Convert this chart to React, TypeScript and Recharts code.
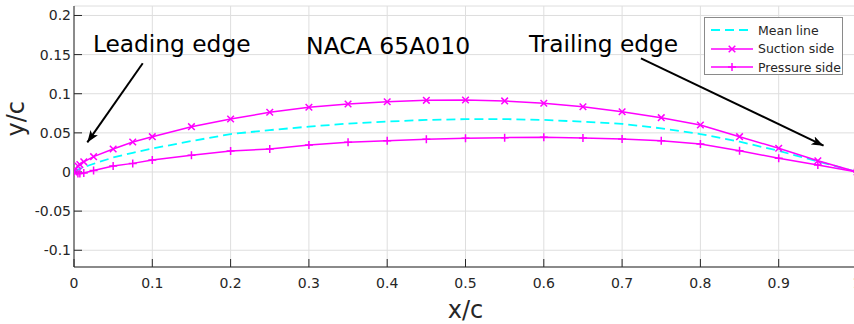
import React from 'react';
import { LineChart, Line, XAxis, YAxis, CartesianGrid, ReferenceLine, ReferenceDot } from 'recharts';

const xStations = [0, 0.005, 0.0075, 0.0125, 0.025, 0.05, 0.075, 0.1, 0.15, 0.2, 0.25, 0.3, 0.35, 0.4, 0.45, 0.5, 0.55, 0.6, 0.65, 0.7, 0.75, 0.8, 0.85, 0.9, 0.95, 1.0];
const suctionSide = [0, 0.0077, 0.0095, 0.013, 0.0196, 0.0294, 0.0383, 0.0451, 0.0579, 0.0677, 0.0763, 0.0827, 0.0869, 0.0898, 0.0916, 0.092, 0.0908, 0.0878, 0.0834, 0.077, 0.0694, 0.06, 0.0451, 0.0303, 0.0144, 0];
const pressureSide = [0, -0.002, -0.002, -0.0012, 0.002, 0.0077, 0.011, 0.0153, 0.0213, 0.0268, 0.0294, 0.0345, 0.0379, 0.04, 0.0418, 0.043, 0.0439, 0.0445, 0.0434, 0.0422, 0.04, 0.0358, 0.0272, 0.0175, 0.0089, 0];
const meanLine = [0, 0.003, 0.004, 0.006, 0.0105, 0.0185, 0.0245, 0.03, 0.0395, 0.0485, 0.0535, 0.058, 0.0618, 0.0645, 0.0665, 0.0675, 0.0676, 0.0665, 0.0643, 0.0615, 0.0558, 0.0485, 0.0387, 0.027, 0.0135, 0];

const xTicks = [0, 0.1, 0.2, 0.3, 0.4, 0.5, 0.6, 0.7, 0.8, 0.9, 1];
const yTicks = [-0.1, -0.05, 0, 0.05, 0.1, 0.15, 0.2];

const leadingArrow = [{ x: 0.0878, y: 0.1389 }, { x: 0.017, y: 0.0378 }];
const trailingArrow = [{ x: 0.7241, y: 0.1453 }, { x: 0.9573, y: 0.0336 }];
const notes = [
  { text: 'Leading edge', x: 0.1248, y: 0.1635, size: 23.3 },
  { text: 'NACA 65A010', x: 0.4012, y: 0.161, size: 23.5 },
  { text: 'Trailing edge', x: 0.6763, y: 0.1635, size: 23.3 },
];

const data = xStations.map((x, i) => ({ x, s: suctionSide[i], p: pressureSide[i], m: meanLine[i] }));

const MAG = '#ff00ff';
const CYAN = '#00ffff';
const FONT = '"DejaVu Sans", sans-serif';
const TXT = '#262626';

const XDot = (props: any) => {
  const { cx, cy, index } = props;
  if (cx == null || cy == null) return <g key={index} />;
  const r = 3.3;
  return (
    <path key={index} d={`M${cx - r},${cy - r}L${cx + r},${cy + r}M${cx - r},${cy + r}L${cx + r},${cy - r}`} stroke={MAG} strokeWidth={1.5} fill="none" />
  );
};
const PlusDot = (props: any) => {
  const { cx, cy, index } = props;
  if (cx == null || cy == null) return <g key={index} />;
  const r = 4;
  return (
    <path key={index} d={`M${cx - r},${cy}L${cx + r},${cy}M${cx},${cy - r}L${cx},${cy + r}`} stroke={MAG} strokeWidth={1.5} fill="none" />
  );
};

const fmt = (v: number) => (Math.abs(v) < 1e-9 ? '0' : String(v));

export default function App() {
  return (
    <div style={{ position: 'fixed', left: 0, top: 0, width: 854, height: 324, overflow: 'hidden', background: '#fff', fontFamily: FONT }}>
      <LineChart width={870} height={324} data={data} margin={{ top: 6, right: 13, bottom: 0, left: 0 }}>
        <defs>
          <marker id="arrowHead" markerUnits="userSpaceOnUse" markerWidth="14" markerHeight="10" refX="12" refY="4.5" orient="auto">
            <path d="M0,0 L12,4.5 L0,9 L3,4.5 Z" fill="#000" />
          </marker>
        </defs>
        <CartesianGrid stroke="#dedede" strokeWidth={1} />
        <XAxis
          dataKey="x"
          type="number"
          domain={[0, 1]}
          ticks={xTicks}
          tickFormatter={fmt}
          height={57}
          tickSize={-8}
          tickMargin={19}
          tick={{ fill: TXT, fontSize: 14, fontFamily: FONT }}
          axisLine={{ stroke: '#8a8a8a', strokeWidth: 2 }}
          tickLine={{ stroke: '#262626' }}
          allowDataOverflow
          label={{ value: 'x/c', position: 'insideBottom', offset: 6, fontSize: 24, fill: TXT, fontFamily: FONT }}
        />
        <YAxis
          type="number"
          domain={[-0.1214, 0.2121]}
          ticks={yTicks}
          tickFormatter={fmt}
          width={74}
          tickSize={-8}
          tickMargin={11}
          tick={{ fill: TXT, fontSize: 14, fontFamily: FONT }}
          axisLine={{ stroke: '#262626', strokeWidth: 1 }}
          tickLine={{ stroke: '#262626' }}
          allowDataOverflow
          label={{ value: 'y/c', angle: -90, position: 'insideLeft', offset: 15, fontSize: 24, fill: TXT, fontFamily: FONT }}
        />
        <Line dataKey="m" stroke={CYAN} strokeWidth={1.8} strokeDasharray="9 5" dot={false} isAnimationActive={false} type="linear" />
        <Line dataKey="s" stroke={MAG} strokeWidth={1.5} dot={XDot} isAnimationActive={false} type="linear" />
        <Line dataKey="p" stroke={MAG} strokeWidth={1.5} dot={PlusDot} isAnimationActive={false} type="linear" />
        <ReferenceLine segment={leadingArrow} stroke="#000" strokeWidth={2} markerEnd="url(#arrowHead)" ifOverflow="visible" />
        <ReferenceLine segment={trailingArrow} stroke="#000" strokeWidth={2} markerEnd="url(#arrowHead)" ifOverflow="visible" />
        {notes.map((n) => (
          <ReferenceDot
            key={n.text}
            x={n.x}
            y={n.y}
            r={0}
            fill="none"
            stroke="none"
            ifOverflow="visible"
            label={{ value: n.text, position: 'center', fontSize: n.size, fill: '#000', fontFamily: FONT }}
          />
        ))}
      </LineChart>
      <div
        style={{
          position: 'absolute',
          left: 704,
          top: 17,
          width: 139,
          height: 58,
          border: '1px solid #8a8a8a',
          background: '#fff',
          boxSizing: 'border-box',
          fontFamily: FONT,
          fontSize: 12.5,
          color: TXT,
        }}
      >
        {[
          { name: 'Mean line', color: CYAN, dash: '9 5', mark: null },
          { name: 'Suction side', color: MAG, dash: undefined, mark: 'x' },
          { name: 'Pressure side', color: MAG, dash: undefined, mark: '+' },
        ].map((it, i) => (
          <div key={it.name} style={{ position: 'absolute', left: 5, top: 3 + i * 18.7, height: 18, display: 'flex', alignItems: 'center', whiteSpace: 'nowrap' }}>
            <svg width={44} height={18} style={{ marginRight: 4 }}>
              <line x1={1} y1={9} x2={43} y2={9} stroke={it.color} strokeWidth={it.mark ? 1.5 : 1.8} strokeDasharray={it.dash} />
              {it.mark === 'x' && <path d="M18.7,5.7L25.3,12.3M18.7,12.3L25.3,5.7" stroke={MAG} strokeWidth={1.5} />}
              {it.mark === '+' && <path d="M18,9L26,9M22,5L22,13" stroke={MAG} strokeWidth={1.5} />}
            </svg>
            <span>{it.name}</span>
          </div>
        ))}
      </div>
    </div>
  );
}
